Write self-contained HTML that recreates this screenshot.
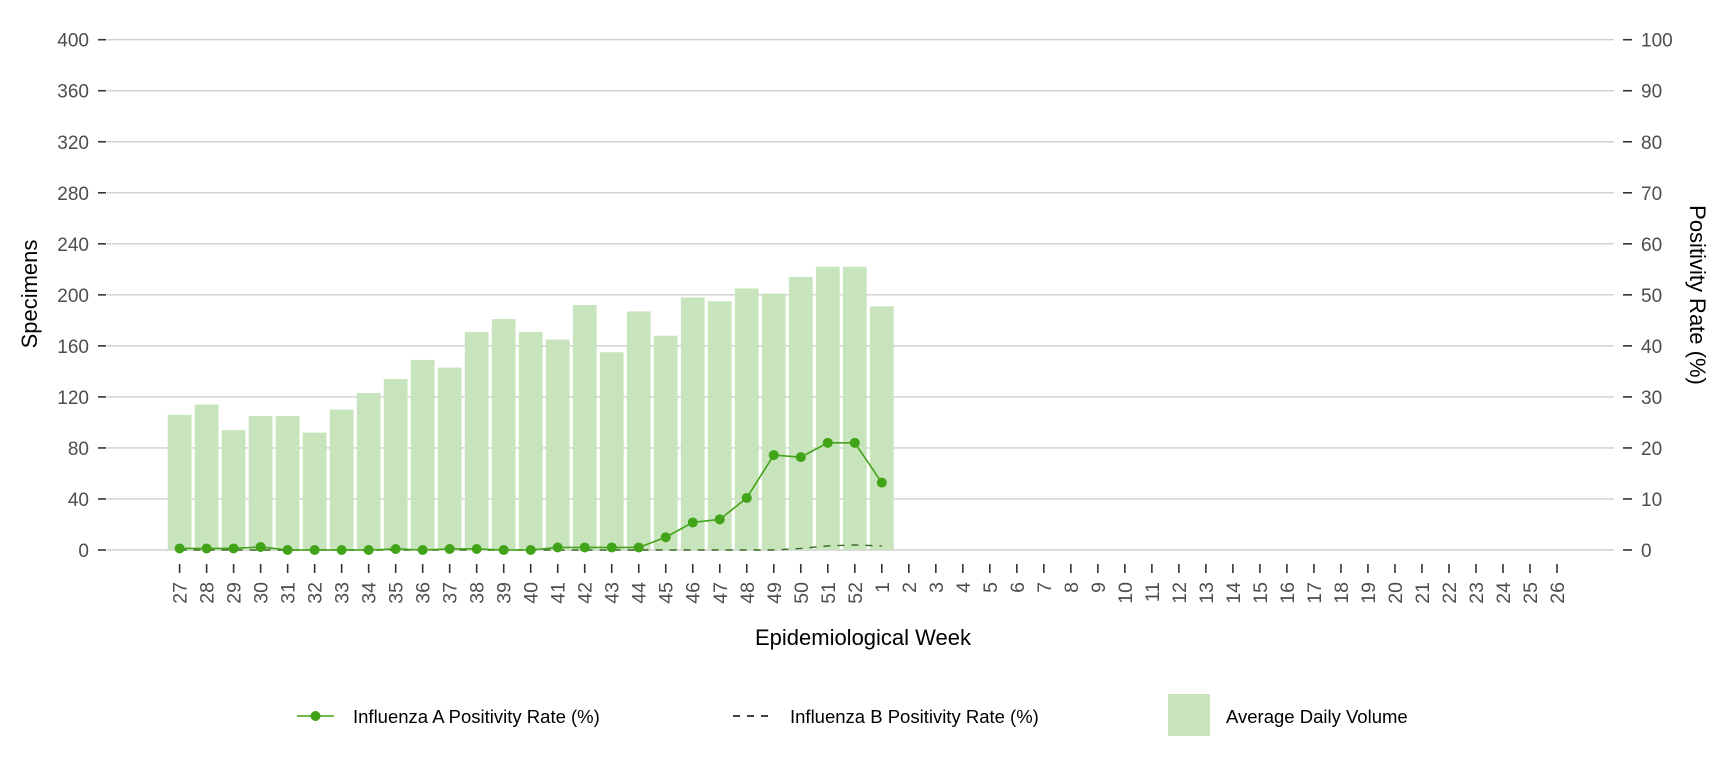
<!DOCTYPE html>
<html><head><meta charset="utf-8"><style>
body{margin:0;background:#fff;width:1728px;height:768px;overflow:hidden}
svg{font-family:"Liberation Sans",Arial,sans-serif}
</style></head><body>
<svg id="chart" width="1728" height="768"></svg>
<script>
const weeks=[27,28,29,30,31,32,33,34,35,36,37,38,39,40,41,42,43,44,45,46,47,48,49,50,51,52,1,2,3,4,5,6,7,8,9,10,11,12,13,14,15,16,17,18,19,20,21,22,23,24,25,26];
const volume=[106,114,94,105,105,92,110,123,134,149,143,171,181,171,165,192,155,187,168,198,195,205,201,214,222,222,191];
const fluA=[0.3,0.3,0.3,0.6,0,0,0,0,0.2,0,0.2,0.2,0,0,0.5,0.5,0.5,0.5,2.5,5.4,6.0,10.2,18.6,18.2,21,21,13.2];
const fluB=[0,0,0,0,0,0,0,0,0,0,0,0,0,0,0,0,0,0,0,0,0,0,0,0.3,0.8,1.0,0.8];
const leftTicks=[0,40,80,120,160,200,240,280,320,360,400];
const rightTicks=[0,10,20,30,40,50,60,70,80,90,100];
const NS="http://www.w3.org/2000/svg";
const svg=document.getElementById('chart');
const X0=107,X1=1614,Y0=550,Y1=39.7;
const x0c=179.6,step=(1557-179.6)/51;
function xs(i){return x0c+i*step;}
function yl(v){return Y0-(v/400)*(Y0-Y1);}
function yr(v){return Y0-(v/100)*(Y0-Y1);}
function mk(t,a,txt){const e=document.createElementNS(NS,t);for(const k in a)e.setAttribute(k,a[k]);if(txt!==undefined)e.textContent=txt;svg.appendChild(e);return e;}
leftTicks.forEach((v,i)=>{
  const g=mk('line',{x1:X0,x2:X1,y1:yl(v),y2:yl(v),stroke:'#cfcfcf','stroke-width':1.4});
  
  
  const t=mk('line',{x1:98,x2:106,y1:yl(v),y2:yl(v),stroke:'#333','stroke-width':1.6});
  
  
  const l=mk('text',{x:89,y:yl(v)+7,'text-anchor':'end','font-size':19,fill:'#4d4d4d'},v);
  
  
});
rightTicks.forEach(v=>{
  const t=mk('line',{x1:1623,x2:1632,y1:yr(v),y2:yr(v),stroke:'#333','stroke-width':1.6});
  
  
  const l=mk('text',{x:1641,y:yr(v)+7,'font-size':19,fill:'#4d4d4d'},v);
  
  
});
const bw=step*0.88;
volume.forEach((v,i)=>{
  const r=mk('rect',{x:xs(i)-bw/2,y:yl(v),width:bw,height:Y0-yl(v),fill:'#c8e4bc'});
  
  
});
weeks.forEach((w,i)=>{
  const t=mk('line',{x1:xs(i),x2:xs(i),y1:564,y2:573,stroke:'#333','stroke-width':1.6});
  
  
  const l=mk('text',{x:0,y:0,'text-anchor':'end','font-size':19.5,fill:'#4d4d4d',transform:`translate(${xs(i)+7},582) rotate(-90)`},w);
  
  
});
const pb=mk('polyline',{points:fluB.map((v,i)=>xs(i)+','+yr(v)).join(' '),fill:'none',stroke:'#3a6a22','stroke-width':1.4,'stroke-dasharray':'7,7'});


const pa=mk('polyline',{points:fluA.map((v,i)=>xs(i)+','+yr(v)).join(' '),fill:'none',stroke:'#41a317','stroke-width':1.6});


fluA.forEach((v,i)=>{
  const c=mk('circle',{cx:xs(i),cy:yr(v),r:5,fill:'#41a317'});
  
  
});
</script>
<svg width="1728" height="768" style="position:absolute;left:0;top:0">
<text x="863" y="645" text-anchor="middle" font-size="22" fill="#000">Epidemiological Week</text>
<text transform="translate(37,294) rotate(-90)" text-anchor="middle" font-size="22" fill="#000">Specimens</text>
<text transform="translate(1690,295) rotate(90)" text-anchor="middle" font-size="22" fill="#000">Positivity Rate (%)</text>
<g>
<g>
<line x1="297" x2="334" y1="716" y2="716" stroke="#41a317" stroke-width="1.6"/>
<circle cx="315.5" cy="716" r="5" fill="#41a317"/>
<text x="353" y="723" font-size="18.5" fill="#000">Influenza A Positivity Rate (%)</text></g>
<g>
<line x1="733" x2="772" y1="716" y2="716" stroke="#000" stroke-width="1.5" stroke-dasharray="7,7"/>
<text x="790" y="723" font-size="18.5" fill="#000">Influenza B Positivity Rate (%)</text></g>
<g>
<rect x="1168" y="694" width="42" height="42" fill="#c8e4bc"/>
<text x="1226" y="723" font-size="18.5" fill="#000">Average Daily Volume</text></g>
</g>
</svg>
</body></html>
